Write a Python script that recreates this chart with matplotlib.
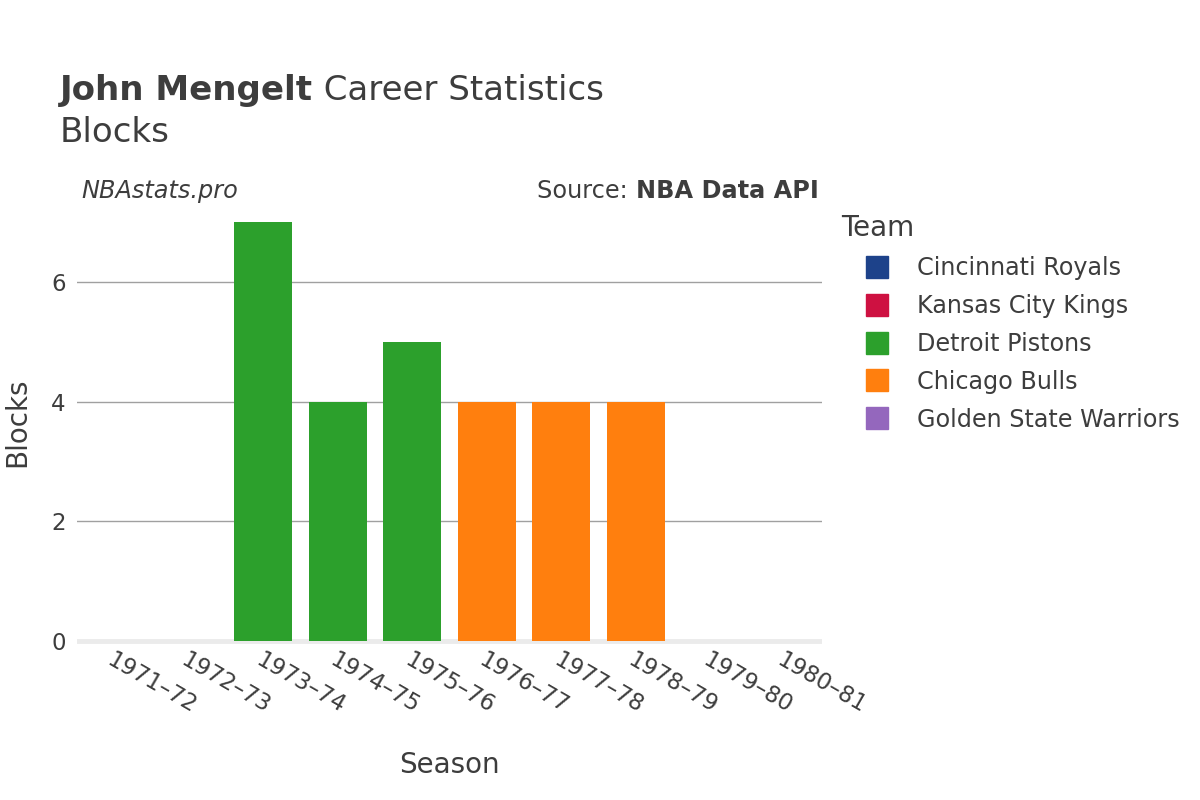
import matplotlib
matplotlib.use('Agg')
from matplotlib import pyplot as plt
from matplotlib.lines import Line2D

# data
seasons = ['1971–72', '1972–73', '1973–74', '1974–75', '1975–76',
           '1976–77', '1977–78', '1978–79', '1979–80', '1980–81']
blocks = [0, 0, 7, 4, 5, 4, 4, 4, 0, 0]
teams = ['Cincinnati Royals', 'Kansas City Kings', 'Detroit Pistons', 'Detroit Pistons',
         'Detroit Pistons', 'Chicago Bulls', 'Chicago Bulls', 'Chicago Bulls',
         'Chicago Bulls', 'Golden State Warriors']
team_order = ['Cincinnati Royals', 'Kansas City Kings', 'Detroit Pistons',
              'Chicago Bulls', 'Golden State Warriors']
team_colors = {'Cincinnati Royals': '#1d428a', 'Kansas City Kings': '#ce1141',
               'Detroit Pistons': '#2ca02c', 'Chicago Bulls': '#ff7f0e',
               'Golden State Warriors': '#9467bd'}

txt = '#3d3d3d'
plt.rcParams['font.family'] = ['DejaVu Sans']

fig = plt.figure(figsize=(12, 8), dpi=100)
ax = fig.add_axes([0.064, 0.195, 0.621, 0.555])

x = list(range(len(seasons)))
ax.bar(x, blocks, width=0.78, color=[team_colors[t] for t in teams], zorder=3)

ax.set_xlim(-0.5, len(seasons) - 0.5)
ax.set_ylim(-0.05, 7.37)
ax.set_yticks([0, 2, 4, 6])
ax.set_axisbelow(True)
ax.grid(axis='y', color='#a0a0a0', linewidth=1)
ax.axhline(0, color='#ebebeb', linewidth=3.5, zorder=2.5)
for s in ax.spines.values():
    s.set_visible(False)
ax.tick_params(axis='both', length=0, labelsize=16.5, labelcolor=txt)
ax.tick_params(axis='y', pad=8)
ax.set_xticks(x)
ax.set_xticklabels(seasons, rotation=-30, ha='left', va='top', rotation_mode='anchor')
ax.tick_params(axis='x', pad=3)

ax.set_xlabel('Season', fontsize=20, color=txt, labelpad=24)
ax.set_ylabel('Blocks', fontsize=20, color=txt, labelpad=14)

# title
t1 = fig.text(0.05, 0.875, 'John Mengelt', fontsize=24.5, weight='bold', color=txt, va='baseline')
ax.annotate(' Career Statistics', xy=(1, 0), xycoords=t1, fontsize=24.5, color=txt,
            va='bottom', annotation_clip=False)
fig.text(0.05, 0.822, 'Blocks', fontsize=24.5, color=txt, va='baseline')

fig.text(0.068, 0.753, 'NBAstats.pro', fontsize=17.3, style='italic', color=txt, va='baseline')
s1 = fig.text(0.682, 0.753, 'NBA Data API', fontsize=17.3, weight='bold', color=txt,
              va='baseline', ha='right')
ax.annotate('Source: ', xy=(0, 0), xycoords=s1, fontsize=17.3, color=txt,
            va='bottom', ha='right', annotation_clip=False)

# legend
handles = [Line2D([], [], marker='s', linestyle='none', markersize=16,
                  markerfacecolor=team_colors[t], markeredgecolor=team_colors[t])
           for t in team_order]
leg = fig.legend(handles, team_order, loc='upper left', bbox_to_anchor=(0.683, 0.759),
                 frameon=False, fontsize=17.2, title='Team', title_fontsize=20,
                 labelspacing=0.58, handletextpad=0.17, handlelength=3.0, alignment='left')
for t in leg.get_texts():
    t.set_color(txt)
leg.get_title().set_color(txt)

plt.savefig('out.png', dpi=100)
